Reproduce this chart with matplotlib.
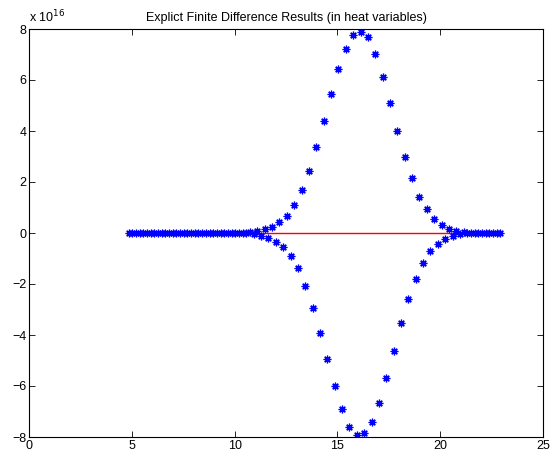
#!/usr/bin/env python3
"""
Explicit finite difference results (heat variables): unstable solution
shown as alternating-sign spikes, with the near-zero reference in red.
"""

import matplotlib

matplotlib.use("Agg")
import matplotlib.pyplot as plt
import numpy as np
from matplotlib.ticker import FuncFormatter

SCALE = 1e16

# grid in heat variables (102 nodes)
X_FIRST = 4.84
X_LAST = 22.93
N_NODES = 102

# solution values in units of 1e16; zero outside
# index range 33..91
u_nonzero_start = 33
u_nonzero = [
    0.03, -0.04, 0.06, -0.10, 0.14, -0.20, 0.22, -0.35, 0.42, -0.54,
    0.68, -0.90, 1.09, -1.38, 1.67, -2.08, 2.42, -2.93, 3.36, -3.91,
    4.39, -4.94, 5.46, -6.01, 6.44, -6.90, 7.23, -7.61, 7.76, -7.93,
    7.89, -7.84, 7.67, -7.42, 7.01, -6.67, 6.12, -5.69, 5.11, -4.62,
    4.01, -3.54, 2.99, -2.59, 2.15, -1.80, 1.42, -1.18, 0.93, -0.72,
    0.55, -0.43, 0.33, -0.25, 0.16, -0.10, 0.07, -0.04, 0.02,
]

x_ticks = [0, 5, 10, 15, 20, 25]
y_ticks = [-8, -6, -4, -2, 0, 2, 4, 6, 8]

x = np.linspace(X_FIRST, X_LAST, N_NODES)
u = np.zeros(N_NODES)
u[u_nonzero_start:u_nonzero_start + len(u_nonzero)] = u_nonzero
u = u * SCALE
exact = np.zeros(N_NODES)

plt.rcParams["font.family"] = ["Liberation Sans", "DejaVu Sans"]
plt.rcParams["font.size"] = 9

fig = plt.figure(figsize=(5.56, 4.57), dpi=100)
ax = fig.add_axes([29 / 556, 20 / 457, 514 / 556, 408 / 457])

ax.plot(x, exact, color="#ff0000", lw=1.0, zorder=1, snap=True)
ax.plot(x, u, ls="none", marker=(8, 2, 0), markersize=5.5, mew=0.9,
        color="blue", zorder=2)

ax.set_xlim(0, 25)
ax.set_ylim(-8 * SCALE, 8 * SCALE)
ax.set_xticks(x_ticks)
ax.set_yticks([v * SCALE for v in y_ticks])
ax.yaxis.set_major_formatter(FuncFormatter(lambda v, _: f"{v / SCALE:g}".replace("-", "\u2212")))
ax.tick_params(direction="in", length=4, width=0.6, top=True, right=True,
               labelsize=9, pad=2)
for s in ax.spines.values():
    s.set_linewidth(0.8)

ax.text(0.0, 1.008, "x 10$^{16}$", transform=ax.transAxes, ha="left",
        va="bottom", fontsize=9)
ax.set_title("Explict Finite Difference Results (in heat variables)",
             fontsize=9, pad=6)

fig.savefig("out.png", dpi=100)
